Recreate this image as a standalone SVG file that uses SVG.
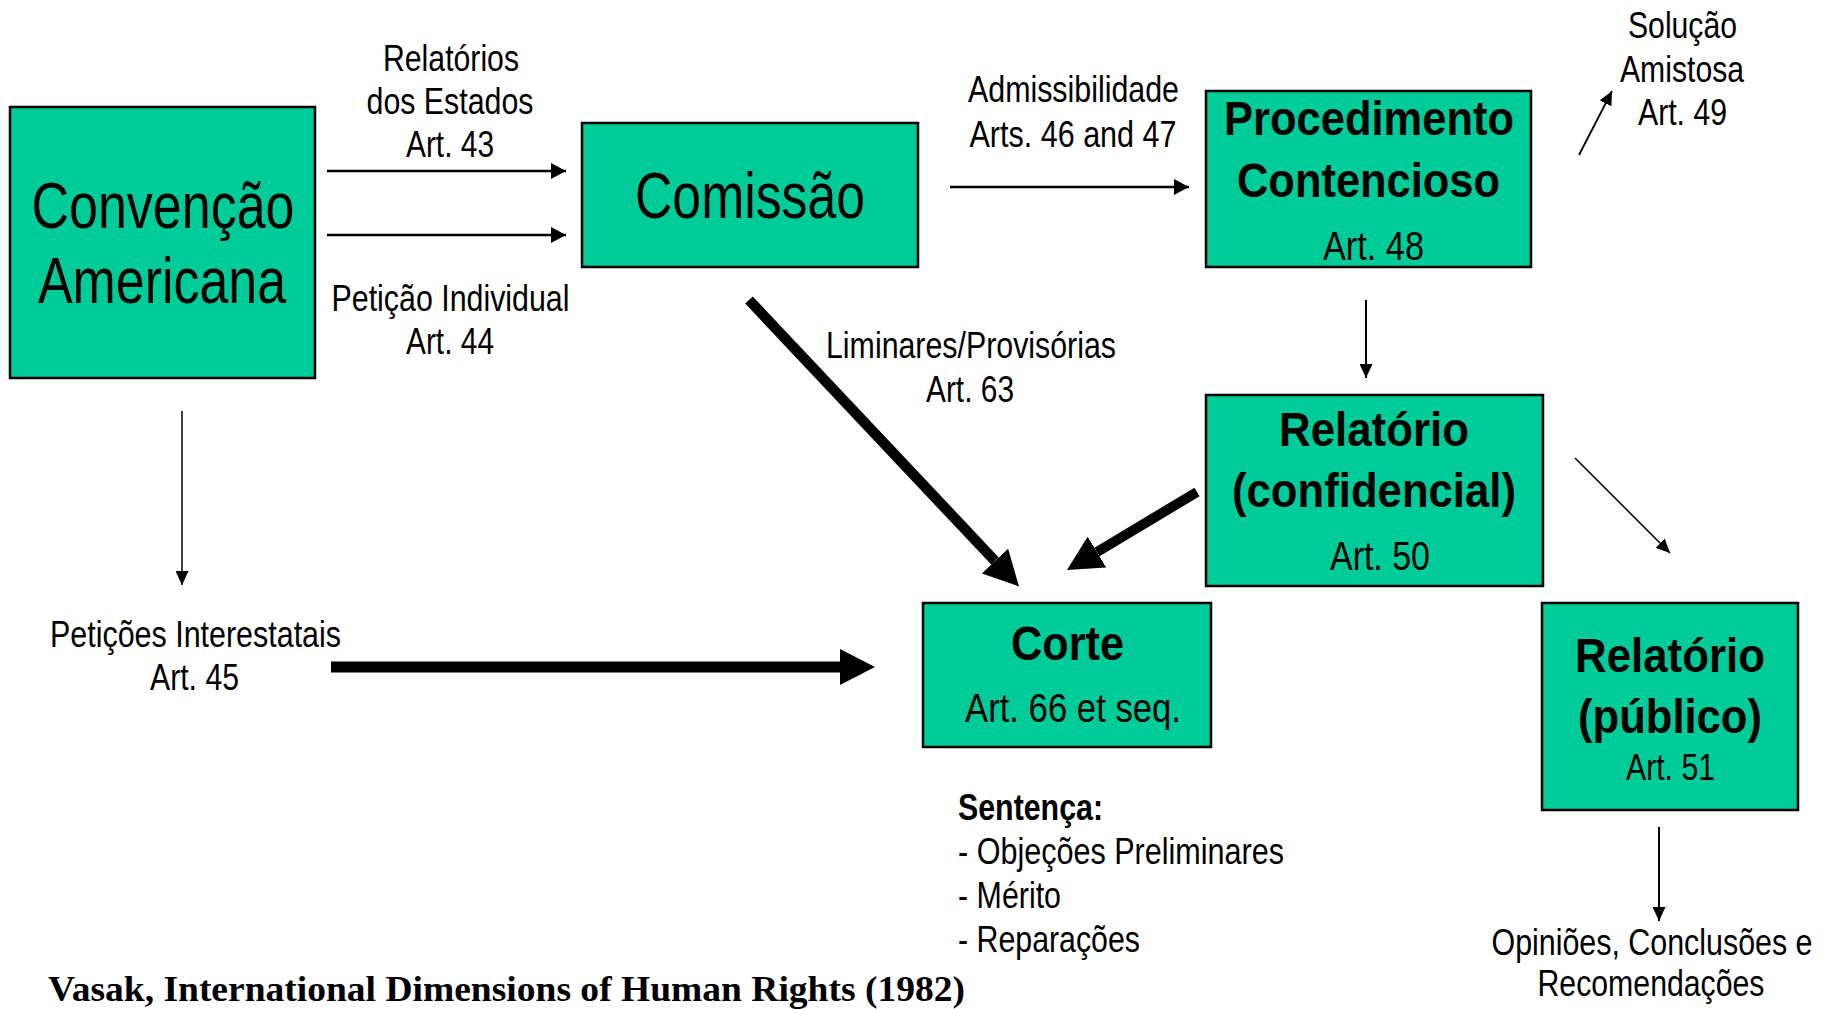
<svg xmlns="http://www.w3.org/2000/svg" width="1829" height="1009" viewBox="0 0 1829 1009">
<style>
.box{fill:#00CC99;stroke:#000;stroke-width:2.5}
text{font-family:"Liberation Sans Narrow","Liberation Sans",Arial,sans-serif;fill:#000}
.big{font-size:65px;text-anchor:middle}
.bold{font-size:48px;font-weight:bold;text-anchor:middle}
.art{font-size:40px;text-anchor:middle}
.lbl{font-size:36px;text-anchor:middle}
.lst{font-size:36px}
.ln{stroke:#000;fill:none}
.ref{font-family:"Liberation Serif","Times New Roman",serif;font-weight:bold;font-size:36px}
</style>
<defs>
<marker id="ah" markerUnits="userSpaceOnUse" viewBox="0 0 15 16" markerWidth="15" markerHeight="16" refX="15" refY="8" orient="auto"><path d="M0,0 L15,8 L0,16 z" fill="#000"/></marker>
<marker id="ahs" markerUnits="userSpaceOnUse" viewBox="0 0 14 13" markerWidth="14" markerHeight="13" refX="14" refY="6.5" orient="auto"><path d="M0,0 L14,6.5 L0,13 z" fill="#000"/></marker>
<marker id="ahb" markerUnits="userSpaceOnUse" viewBox="0 0 35 36" markerWidth="35" markerHeight="36" refX="0" refY="18" orient="auto"><path d="M0,0 L35,18 L0,36 z" fill="#000"/></marker>
</defs>

<g id="connectors">
<line class="ln" x1="327" y1="171" x2="566" y2="171" stroke-width="2.5" marker-end="url(#ah)"/>
<line class="ln" x1="327" y1="235" x2="566" y2="235" stroke-width="2.5" marker-end="url(#ah)"/>
<line class="ln" x1="950" y1="187" x2="1189" y2="187" stroke-width="2.5" marker-end="url(#ah)"/>
<line class="ln" x1="1366" y1="300" x2="1366" y2="378" stroke-width="2" marker-end="url(#ahs)"/>
<line class="ln" x1="1579" y1="155" x2="1612" y2="91" stroke-width="1.8" marker-end="url(#ahs)"/>
<line class="ln" x1="182" y1="411" x2="182" y2="585" stroke-width="1.5" marker-end="url(#ahs)"/>
<line class="ln" x1="1575" y1="458" x2="1670" y2="553" stroke-width="1.5" marker-end="url(#ahs)"/>
<line class="ln" x1="1659" y1="827" x2="1659" y2="921" stroke-width="2" marker-end="url(#ahs)"/>
<line class="ln" x1="331" y1="667" x2="840" y2="667" stroke-width="11" marker-end="url(#ahb)"/>
<line class="ln" x1="749" y1="300" x2="995" y2="561" stroke-width="10.5" marker-end="url(#ahb)"/>
<line class="ln" x1="1197" y1="492" x2="1097" y2="552" stroke-width="10" marker-end="url(#ahb)"/>
</g>

<g id="convencao">
<rect class="box" x="10" y="107" width="305" height="271"/>
<text class="big" x="163" y="228" textLength="263" lengthAdjust="spacingAndGlyphs">Convenção</text>
<text class="big" x="162" y="303" textLength="248" lengthAdjust="spacingAndGlyphs">Americana</text>
</g>

<g id="comissao">
<rect class="box" x="582" y="123" width="336" height="144"/>
<text class="big" x="750" y="218" textLength="230" lengthAdjust="spacingAndGlyphs">Comissão</text>
</g>

<g id="procedimento">
<rect class="box" x="1206" y="91" width="325" height="176"/>
<text class="bold" x="1369" y="135" font-size="49" textLength="290" lengthAdjust="spacingAndGlyphs">Procedimento</text>
<text class="bold" x="1368.5" y="197" font-size="49" textLength="263" lengthAdjust="spacingAndGlyphs">Contencioso</text>
<text class="art" x="1373.5" y="260" textLength="101" lengthAdjust="spacingAndGlyphs">Art. 48</text>
</g>

<g id="relatorio-confidencial">
<rect class="box" x="1206" y="395" width="337" height="191"/>
<text class="bold" x="1374" y="446" textLength="190" lengthAdjust="spacingAndGlyphs">Relatório</text>
<text class="bold" x="1374" y="507" textLength="284" lengthAdjust="spacingAndGlyphs">(confidencial)</text>
<text class="art" x="1380" y="570" textLength="100" lengthAdjust="spacingAndGlyphs">Art. 50</text>
</g>

<g id="corte">
<rect class="box" x="923" y="603" width="288" height="144"/>
<text class="bold" x="1067.5" y="660" textLength="113" lengthAdjust="spacingAndGlyphs">Corte</text>
<text class="art" x="1073" y="722" textLength="216" lengthAdjust="spacingAndGlyphs">Art. 66 et seq.</text>
</g>

<g id="relatorio-publico">
<rect class="box" x="1542" y="603" width="256" height="207"/>
<text class="bold" x="1670" y="672" textLength="190" lengthAdjust="spacingAndGlyphs">Relatório</text>
<text class="bold" x="1670" y="733" textLength="184" lengthAdjust="spacingAndGlyphs">(público)</text>
<text class="lbl" x="1670.5" y="780" textLength="89" lengthAdjust="spacingAndGlyphs">Art. 51</text>
</g>

<g id="labels">
<text class="lbl" x="451" y="71" textLength="136" lengthAdjust="spacingAndGlyphs">Relatórios</text>
<text class="lbl" x="450" y="114" textLength="167" lengthAdjust="spacingAndGlyphs">dos Estados</text>
<text class="lbl" x="450" y="157" textLength="88" lengthAdjust="spacingAndGlyphs">Art. 43</text>
<text class="lbl" x="450.5" y="311" textLength="238" lengthAdjust="spacingAndGlyphs">Petição Individual</text>
<text class="lbl" x="450" y="354" textLength="88" lengthAdjust="spacingAndGlyphs">Art. 44</text>
<text class="lbl" x="1073.5" y="102" textLength="211" lengthAdjust="spacingAndGlyphs">Admissibilidade</text>
<text class="lbl" x="1073" y="147" textLength="207" lengthAdjust="spacingAndGlyphs">Arts. 46 and 47</text>
<text class="lbl" x="971" y="358" textLength="290" lengthAdjust="spacingAndGlyphs">Liminares/Provisórias</text>
<text class="lbl" x="970" y="402" textLength="88" lengthAdjust="spacingAndGlyphs">Art. 63</text>
<text class="lbl" x="1682.5" y="38" textLength="109" lengthAdjust="spacingAndGlyphs">Solução</text>
<text class="lbl" x="1682" y="82" textLength="124" lengthAdjust="spacingAndGlyphs">Amistosa</text>
<text class="lbl" x="1682.5" y="125" textLength="89" lengthAdjust="spacingAndGlyphs">Art. 49</text>
<text class="lbl" x="195.5" y="647" textLength="291" lengthAdjust="spacingAndGlyphs">Petições Interestatais</text>
<text class="lbl" x="194.5" y="690" textLength="89" lengthAdjust="spacingAndGlyphs">Art. 45</text>
<text class="lst" x="958" y="820" font-weight="bold" textLength="145" lengthAdjust="spacingAndGlyphs">Sentença:</text>
<text class="lst" x="958" y="864" textLength="326" lengthAdjust="spacingAndGlyphs">- Objeções Preliminares</text>
<text class="lst" x="958" y="908" textLength="103" lengthAdjust="spacingAndGlyphs">- Mérito</text>
<text class="lst" x="958" y="952" textLength="182" lengthAdjust="spacingAndGlyphs">- Reparações</text>
<text class="lst" x="1812.5" y="955" text-anchor="end" textLength="321" lengthAdjust="spacingAndGlyphs">Opiniões, Conclusões e</text>
<text class="lbl" x="1651" y="996" textLength="227" lengthAdjust="spacingAndGlyphs">Recomendações</text>
<text class="ref" x="48" y="1001" textLength="917" lengthAdjust="spacingAndGlyphs">Vasak, International Dimensions of Human Rights (1982)</text>
</g>
</svg>
